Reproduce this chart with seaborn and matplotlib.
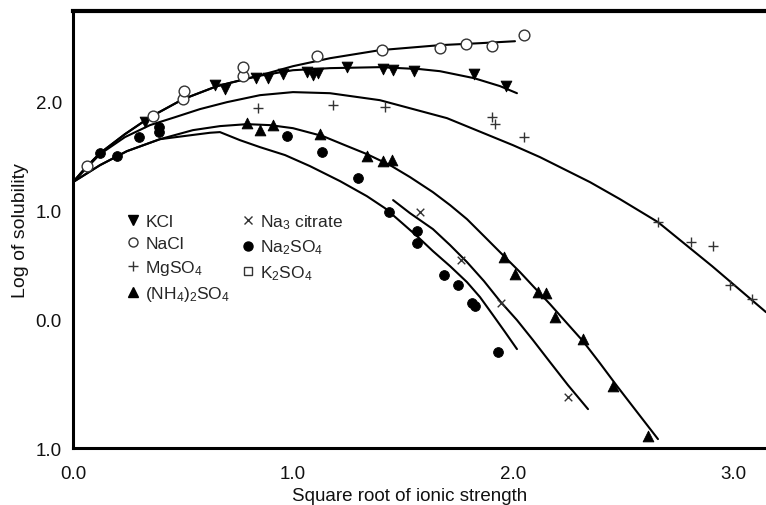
import numpy as np
import pandas as pd
import matplotlib
matplotlib.use('Agg')
import matplotlib.pyplot as plt
import seaborn as sns
from matplotlib.lines import Line2D

sns.set_style('white')
plt.rcParams['font.family'] = ['Liberation Sans', 'DejaVu Sans']
plt.rcParams['mathtext.default'] = 'regular'

# measured points: x = sqrt(ionic strength), y = log of solubility
kcl_x = [0.327, 0.645, 0.691, 0.832, 0.886, 0.955, 1.064, 1.091, 1.114, 1.245, 1.409, 1.455, 1.55, 1.823, 1.968]
kcl_y = [1.807, 2.147, 2.110, 2.211, 2.211, 2.248, 2.266, 2.239, 2.257, 2.312, 2.294, 2.284, 2.275, 2.248, 2.138]

nacl_x = [0.064, 0.364, 0.50, 0.505, 0.773, 0.773, 1.109, 1.405, 1.668, 1.786, 1.905, 2.05]
nacl_y = [1.404, 1.862, 2.018, 2.092, 2.229, 2.312, 2.413, 2.468, 2.486, 2.523, 2.505, 2.606]

mgso4_x = [0.841, 1.182, 1.418, 1.905, 1.918, 2.05, 2.659, 2.809, 2.909, 2.986, 3.086]
mgso4_y = [1.936, 1.963, 1.945, 1.853, 1.789, 1.67, 0.89, 0.706, 0.67, 0.312, 0.183]

nh4_x = [0.791, 0.85, 0.909, 1.123, 1.336, 1.409, 1.45, 1.959, 2.009, 2.114, 2.15, 2.191, 2.318, 2.455, 2.614]
nh4_y = [1.798, 1.734, 1.78, 1.697, 1.495, 1.45, 1.459, 0.569, 0.413, 0.248, 0.239, 0.018, -0.183, -0.615, -1.073]

na2so4_x = [0.123, 0.2, 0.30, 0.391, 0.391, 0.973, 1.132, 1.295, 1.436, 1.564, 1.564, 1.686, 1.75, 1.814, 1.827, 1.932]
na2so4_y = [1.523, 1.495, 1.67, 1.761, 1.716, 1.679, 1.532, 1.294, 0.982, 0.807, 0.697, 0.404, 0.312, 0.147, 0.119, -0.303]

citrate_x = [1.577, 1.764, 1.945, 2.25]
citrate_y = [0.982, 0.541, 0.147, -0.716]

# fitted curves
nacl_cx = [0, 0.059, 0.123, 0.236, 0.35, 0.5, 0.655, 0.836, 1.0, 1.168, 1.395, 1.668, 1.85, 2.009]
nacl_cy = [1.257, 1.394, 1.523, 1.697, 1.853, 2.018, 2.138, 2.229, 2.321, 2.394, 2.468, 2.514, 2.532, 2.550]

kcl_cx = [0, 0.059, 0.123, 0.236, 0.35, 0.5, 0.655, 0.836, 1.0, 1.168, 1.395, 1.577, 1.668, 1.823, 1.941, 2.018]
kcl_cy = [1.257, 1.394, 1.523, 1.697, 1.853, 2.018, 2.138, 2.229, 2.284, 2.303, 2.312, 2.294, 2.275, 2.211, 2.138, 2.073]

mgso4_cx = [0, 0.123, 0.236, 0.35, 0.464, 0.577, 0.70, 0.85, 1.0, 1.168, 1.395, 1.70, 2.0, 2.123, 2.35, 2.486, 2.659, 2.905, 3.15]
mgso4_cy = [1.257, 1.514, 1.670, 1.780, 1.853, 1.927, 1.991, 2.055, 2.083, 2.073, 2.009, 1.844, 1.596, 1.486, 1.257, 1.101, 0.890, 0.486, 0.064]

nh4_cx = [0, 0.123, 0.245, 0.395, 0.545, 0.668, 0.791, 0.895, 1.0, 1.136, 1.236, 1.336, 1.441, 1.532, 1.636, 1.714,
          1.791, 1.873, 1.959, 2.032, 2.091, 2.168, 2.241, 2.318, 2.395, 2.473, 2.564, 2.659]
nh4_cy = [1.257, 1.413, 1.541, 1.651, 1.734, 1.771, 1.789, 1.780, 1.752, 1.679, 1.596, 1.514, 1.413, 1.303, 1.165, 1.046,
          0.917, 0.752, 0.578, 0.431, 0.303, 0.138, -0.028, -0.202, -0.404, -0.615, -0.853, -1.101]

na2so4_cx = [0, 0.123, 0.245, 0.395, 0.545, 0.623, 0.668, 0.759, 0.85, 0.964, 1.077, 1.214, 1.336, 1.418, 1.486,
             1.564, 1.636, 1.714, 1.791, 1.85, 1.909, 1.964, 2.018]
na2so4_cy = [1.257, 1.413, 1.541, 1.651, 1.69, 1.71, 1.716, 1.642, 1.578, 1.505, 1.404, 1.266, 1.128, 1.018, 0.899,
             0.761, 0.624, 0.486, 0.339, 0.202, 0.037, -0.119, -0.275]

citrate_cx = [1.455, 1.532, 1.636, 1.714, 1.791, 1.868, 1.941, 2.018, 2.091, 2.168, 2.25, 2.341]
citrate_cy = [1.092, 0.972, 0.826, 0.679, 0.523, 0.349, 0.165, -0.009, -0.193, -0.394, -0.606, -0.826]

x_ticks = [0, 1, 2, 3]
x_ticklabels = ['0.0', '1.0', '2.0', '3.0']
y_bottom, y_top = -1.183, 2.826
y_ticks = [y_bottom, 0, 1, 2]
y_ticklabels = ['1.0', '0.0', '1.0', '2.0']

fig = plt.figure(figsize=(7.66, 5.06), dpi=100)
ax = fig.add_axes([0.0953, 0.1126, 0.9047, 0.8634])

curves = [(nacl_cx, nacl_cy), (kcl_cx, kcl_cy), (mgso4_cx, mgso4_cy),
          (nh4_cx, nh4_cy), (na2so4_cx, na2so4_cy), (citrate_cx, citrate_cy)]
for cx, cy in curves:
    sns.lineplot(x=cx, y=cy, color='black', linewidth=1.5, sort=False,
                 estimator=None, ax=ax)

sns.scatterplot(x=kcl_x, y=kcl_y, marker='v', s=60, color='black', edgecolor='black', ax=ax, zorder=3)
sns.scatterplot(x=nacl_x, y=nacl_y, marker='o', s=60, facecolor='white', edgecolor='#333333', linewidth=1.0, ax=ax, zorder=3)
sns.scatterplot(x=mgso4_x, y=mgso4_y, marker='+', s=55, color='#333333', linewidth=1.0, ax=ax, zorder=3)
sns.scatterplot(x=nh4_x, y=nh4_y, marker='^', s=60, color='black', edgecolor='black', ax=ax, zorder=3)
sns.scatterplot(x=na2so4_x, y=na2so4_y, marker='o', s=50, color='black', edgecolor='black', ax=ax, zorder=3)
sns.scatterplot(x=citrate_x, y=citrate_y, marker='x', s=30, color='#333333', linewidth=1.0, ax=ax, zorder=3)

ax.set_xlim(0, 3.15)
ax.set_ylim(y_bottom, y_top)
ax.set_xticks(x_ticks)
ax.set_xticklabels(x_ticklabels)
ax.set_yticks(y_ticks)
ax.set_yticklabels(y_ticklabels)
ax.tick_params(axis='x', direction='in', length=11, width=2.2, pad=12, labelsize=13.5, colors='#111111')
ax.tick_params(axis='y', direction='in', length=10.5, width=2.2, pad=8, labelsize=13.5, colors='#111111')
# no tick marks at the corner labels
ax.xaxis.get_major_ticks()[0].tick1line.set_visible(False)
ax.yaxis.get_major_ticks()[0].tick1line.set_visible(False)

for side in ['left', 'bottom']:
    ax.spines[side].set_linewidth(2.2)
    ax.spines[side].set_color('black')
ax.spines['top'].set_linewidth(3)
ax.spines['top'].set_color('black')
ax.spines['right'].set_visible(False)

ax.set_xlabel('Square root of ionic strength', fontsize=13.5, color='#111111')
ax.xaxis.set_label_coords(0.486, -0.09)
ax.set_ylabel('Log of solubility', fontsize=14, color='#111111')
ax.yaxis.set_label_coords(-0.063, 0.5)

handles = [
    Line2D([], [], marker='v', color='black', linestyle='none', markersize=6.5),
    Line2D([], [], marker='o', markerfacecolor='white', markeredgecolor='#333333', linestyle='none', markersize=6.5),
    Line2D([], [], marker='+', color='#333333', linestyle='none', markersize=6.5),
    Line2D([], [], marker='^', color='black', linestyle='none', markersize=6.5),
    Line2D([], [], marker='x', color='#333333', linestyle='none', markersize=5.5),
    Line2D([], [], marker='o', color='black', linestyle='none', markersize=6.5),
    Line2D([], [], marker='s', markerfacecolor='white', markeredgecolor='#333333', linestyle='none', markersize=6),
]
labels = ['KCl', 'NaCl', 'MgSO$_4$', '(NH$_4$)$_2$SO$_4$',
          'Na$_3$ citrate', 'Na$_2$SO$_4$', 'K$_2$SO$_4$']
ax.legend(handles, labels, ncol=2, loc='upper left', bbox_to_anchor=(0.077, 0.54),
          frameon=False, fontsize=12.5, handlelength=0.8, handletextpad=0.3,
          labelspacing=0.4, columnspacing=0.6, borderpad=0, borderaxespad=0)

fig.savefig('out.png', dpi=100)
